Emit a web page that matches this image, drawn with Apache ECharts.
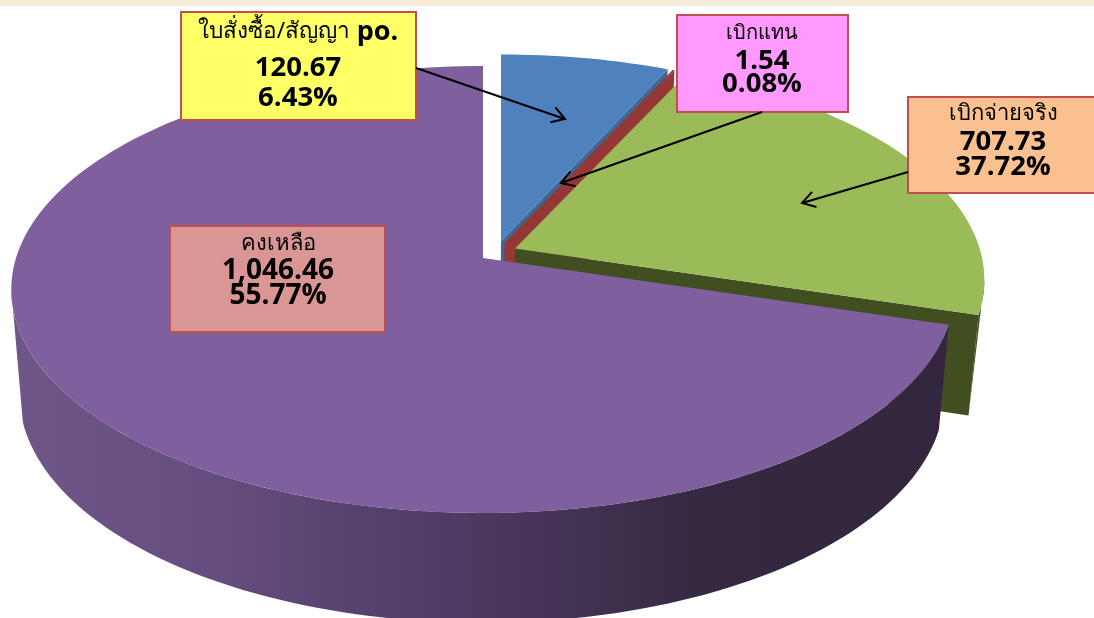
<!DOCTYPE html>
<html><head><meta charset="utf-8">
<style>html,body{margin:0;padding:0;background:#fff}#c{width:1094px;height:618px}</style>
<script src="https://cdn.jsdelivr.net/npm/echarts@6/dist/echarts.min.js"></script>
</head><body><div id="c"></div>
<script>
// Slice names and printed labels (as written in the picture's boxes)
const sliceNames = ['ใบสั่งซื้อ/สัญญา', 'เบิกแทน', 'เบิกจ่ายจริง', 'คงเหลือ'];
const nameSuffixes = ['po.', '', '', ''];
const amountLabels = ['120.67', '1.54', '707.73', '1,046.46'];
const percentLabels = ['6.43%', '0.08%', '37.72%', '55.77%'];
// Share of the drawn pie (percent of the full turn)
const drawnShares = [6.8, 0.08, 22.84, 70.28];

const topColors = ['#4f81bd', '#953735', '#9bbb59', '#7f5f9d'];
const cutColors = ['#3d6794', '#953735', '#414f20', null];
const boxFills = ['#ffff66', '#ff99ff', '#fac090', '#d99694'];

// projection of the tilted disc
const PERSP = -0.141;
const upper = {x: 483, y: 258, rx: 467, ry: 219};
const lower = {x: 482, y: 362, rx: 458, ry: 224};
const explode = [
  {dx: 18, dy: -17, s: 0.972, low: 0},
  {dx: 21.5, dy: -15, s: 0.98, low: 0},
  {dx: 32, dy: -9.5, s: 0.995, low: -5},
  {dx: 0, dy: 0, s: 1, low: 0}
];
function project(plane, e, deg, r) {
  const a = deg * Math.PI / 180, X = Math.sin(a) * r, Y = -Math.cos(a) * r;
  const w = 1 + PERSP * Y;
  const shift = plane === lower ? e.low : 0;
  return [plane.x + e.dx + e.s * plane.rx * X / w, plane.y + e.dy + shift + e.s * plane.ry * Y / w];
}
function rim(plane, e, from, to) {
  const n = Math.max(2, Math.ceil(Math.abs(to - from) / 1.5)), pts = [];
  for (let i = 0; i <= n; i++) pts.push(project(plane, e, from + (to - from) * i / n, 1));
  return pts;
}
const sideFill = new echarts.graphic.LinearGradient(20, 0, 940, 0, [
  {offset: 0, color: '#6f5689'}, {offset: 0.22, color: '#644d7e'},
  {offset: 0.42, color: '#523e69'}, {offset: 0.58, color: '#443456'},
  {offset: 0.74, color: '#352942'}, {offset: 1, color: '#33273f'}
], true);

function renderSlice(params, api) {
  const i = params.dataIndex, e = explode[i];
  let start = 0;
  for (let k = 0; k < i; k++) start += drawnShares[k];
  const from = start * 3.6, to = (start + api.value(1)) * 3.6;
  const topRim = rim(upper, e, from, to), lowRim = rim(lower, e, from, to);
  const apexT = project(upper, e, 0, 0), apexL = project(lower, e, 0, 0);
  const kids = [];
  const poly = (points, fill) => kids.push({type: 'polygon', shape: {points}, style: {fill, stroke: null}});
  // outer walls: only the part in front of the disc's silhouette
  if (i === 2) poly(rim(upper, e, 98, to).concat([project(lower, e, to, 1)]), cutColors[i]);
  if (i === 3) poly(rim(lower, e, from, 255).concat(rim(upper, e, 262, from)), sideFill);
  if (cutColors[i]) poly([apexT, topRim[topRim.length - 1], lowRim[lowRim.length - 1], apexL], cutColors[i]);
  poly([apexT].concat(topRim), topColors[i]);
  return {type: 'group', children: kids};
}

// Callout layout
const boxes = [
  {x: 181, y: 12, w: 235, h: 108, cx: 298, ys: [32, 68, 98], name: 22.6, num: 27.5},
  {x: 677, y: 15, w: 171, h: 97, cx: 762, ys: [33, 61, 84], name: 20, num: 27.5},
  {x: 908, y: 97, w: 190, h: 96, cx: 1003, ys: [114, 142, 167], name: 22, num: 27.5},
  {x: 170, y: 226, w: 215, h: 106, cx: 278, ys: [244, 271, 296], name: 22, num: 28}
];
const arrows = [[416, 68, 565, 119], [762, 112, 561, 183], [908, 172, 802, 203]];
const graphics = [{type: 'rect', z: 1, shape: {x: 0, y: 0, width: 1094, height: 6}, style: {fill: '#f8ebd9'}}];
const thaiFont = '"Noto Sans","Open Sans",sans-serif';
boxes.forEach((b, i) => {
  graphics.push({type: 'rect', z: 10, shape: {x: b.x, y: b.y, width: b.w, height: b.h},
    style: {fill: boxFills[i], stroke: '#c0504d', lineWidth: 2}});
  const nameText = nameSuffixes[i] ? `{t|${sliceNames[i]}}  {p|${nameSuffixes[i]}}` : `{t|${sliceNames[i]}}`;
  graphics.push({type: 'text', z: 11, x: b.cx, y: b.ys[0], style: {
    text: nameText, align: 'center', verticalAlign: 'middle',
    rich: {
      t: {fontFamily: thaiFont, fontSize: b.name, fill: '#000'},
      p: {fontFamily: '"Open Sans",sans-serif', fontWeight: 'bold', fontSize: 27, fill: '#000'}
    }}});
  [amountLabels[i], percentLabels[i]].forEach((t, k) => graphics.push({type: 'text', z: 11, x: b.cx, y: b.ys[k + 1], style: {
    text: t, fill: '#000', align: 'center', verticalAlign: 'middle',
    font: `bold ${b.num}px "Open Sans",sans-serif`}}));
});
arrows.forEach(a => {
  const [x1, y1, x2, y2] = a, ang = Math.atan2(y2 - y1, x2 - x1), L = 15, W = 0.55;
  graphics.push({type: 'line', z: 12, shape: {x1, y1, x2, y2}, style: {stroke: '#000', lineWidth: 2}});
  graphics.push({type: 'polyline', z: 12, shape: {points: [
    [x2 - L * Math.cos(ang - W), y2 - L * Math.sin(ang - W)], [x2, y2],
    [x2 - L * Math.cos(ang + W), y2 - L * Math.sin(ang + W)]]},
    style: {stroke: '#000', lineWidth: 2, fill: null}});
});

const chart = echarts.init(document.getElementById('c'), null, {renderer: 'canvas'});
chart.setOption({
  animation: false,
  backgroundColor: '#fff',
  series: [{
    type: 'custom', coordinateSystem: 'none', silent: true, z: 2,
    renderItem: renderSlice,
    data: drawnShares.map((v, i) => [i, v])
  }],
  graphic: graphics
});
</script></body></html>
